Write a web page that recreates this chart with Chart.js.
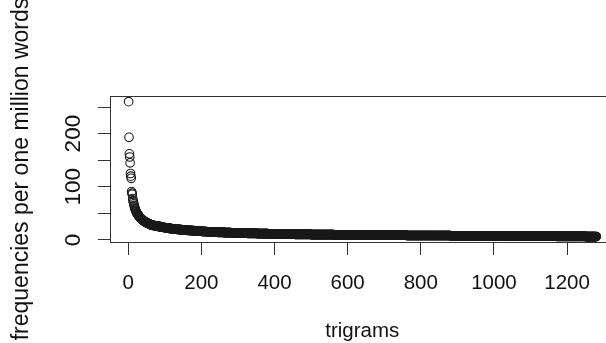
<!DOCTYPE html>
<html>
<head>
<meta charset="utf-8">
<script src="https://cdn.jsdelivr.net/npm/chart.js@4/dist/chart.umd.min.js"></script>
<style>
  html, body { margin: 0; padding: 0; background: #fff; overflow: hidden; }
  #wrap { width: 606px; height: 343px; overflow: hidden; }
</style>
</head>
<body>
<div id="wrap"><canvas id="plot" width="620" height="343"></canvas></div>
<script>
// frequencies of the top-ranked trigrams, read one by one
const headValues = [260, 193, 162, 156, 145, 125, 120, 116, 91, 88,
                    86, 78, 74, 71, 68, 65, 62, 60, 58, 56,
                    54, 53, 51, 50, 49, 48, 47, 46, 45, 44,
                    43, 42, 41.5, 41, 40, 39.5, 39, 38, 37.5, 37,
                    36.5, 36, 35.5, 35, 34.5, 34, 33.5, 33, 33, 32.5,
                    32, 32, 31.5, 31, 31, 30.5, 30, 30, 29.5, 29];
// the long tail: frequency level and how many trigrams share it
const tailValues = [28.5, 28, 27.5, 27, 26.5, 26, 25.5, 25, 24.5, 24,
                    23.5, 23, 22.5, 22, 21.5, 21, 20.5, 20, 19.5, 19,
                    18.5, 18, 17.5, 17, 16.5, 16, 15.5, 15, 14.5, 14,
                    13.5, 13, 12.5, 12, 11.5, 11, 10.5, 10, 9.5, 9,
                    8.5, 8, 7.5, 7, 6.5];
const tailCounts = [3, 3, 3, 3, 4, 4, 4, 4, 4, 4,
                    4, 4, 5, 5, 5, 6, 6, 7, 7, 7,
                    8, 9, 10, 11, 11, 13, 14, 16, 17, 19,
                    21, 24, 26, 30, 34, 40, 44, 62, 73, 126,
                    120, 140, 150, 80, 30];
const xTicks = [0, 200, 400, 600, 800, 1000, 1200];
const yTicks = [0, 50, 100, 150, 200, 250];
const yLabelled = [0, 100, 200];

const freqs = headValues.slice();
tailValues.forEach((v, i) => {
    for (let k = 0; k < tailCounts[i]; k++) freqs.push(v);
});
const points = freqs.map((v, i) => ({ x: i + 1, y: v }));

const FAMILY = '"Liberation Sans", Arial, sans-serif';

// R style box, tick labels and axis titles
const rStyle = {
    id: 'rStyle',
    afterDraw(chart) {
        const ctx = chart.ctx;
        const a = chart.chartArea;
        const xs = chart.scales.x, ys = chart.scales.y;
        ctx.save();
        ctx.strokeStyle = '#333';
        ctx.lineWidth = 1;
        ctx.strokeRect(a.left + 0.5, a.top + 0.5, a.right - a.left, a.bottom - a.top);

        ctx.fillStyle = '#111';
        ctx.font = '20.5px ' + FAMILY;
        ctx.textAlign = 'center';
        ctx.textBaseline = 'alphabetic';
        xs.ticks.forEach(t => {
            ctx.fillText(String(t.value), xs.getPixelForValue(t.value), 288.5);
        });
        ctx.fillText('trigrams', (a.left + a.right) / 2, 336.5);

        ctx.font = '22.5px ' + FAMILY;
        ys.ticks.forEach(t => {
            if (!yLabelled.includes(t.value)) return;
            ctx.save();
            ctx.translate(80, ys.getPixelForValue(t.value));
            ctx.rotate(-Math.PI / 2);
            ctx.fillText(String(t.value), 0, 0);
            ctx.restore();
        });

        ctx.font = '23px ' + FAMILY;
        ctx.save();
        ctx.translate(28, 169);
        ctx.rotate(-Math.PI / 2);
        ctx.fillText('frequencies per one million words', 0, 0);
        ctx.restore();
        ctx.restore();
    }
};

new Chart(document.getElementById('plot'), {
    type: 'scatter',
    data: {
        datasets: [{
            data: points,
            pointStyle: 'circle',
            pointRadius: 4.3,
            pointBorderWidth: 1.1,
            borderColor: '#1a1a1a',
            backgroundColor: 'rgba(0,0,0,0)'
        }]
    },
    options: {
        responsive: false,
        animation: false,
        events: [],
        layout: { padding: { left: 0, top: 96, right: 4, bottom: 0 } },
        plugins: { legend: { display: false }, tooltip: { enabled: false } },
        scales: {
            x: {
                type: 'linear',
                min: -50,
                max: 1330,
                afterBuildTicks: s => { s.ticks = xTicks.map(v => ({ value: v })); },
                afterFit: s => { s.height = 101; },
                ticks: { display: false },
                border: { display: false },
                grid: { drawOnChartArea: false, drawTicks: true, tickLength: 13, color: '#333', lineWidth: 1 }
            },
            y: {
                type: 'linear',
                min: -3.76,
                max: 270.7,
                afterBuildTicks: s => { s.ticks = yTicks.map(v => ({ value: v })); },
                afterFit: s => { s.width = 110; },
                ticks: { display: false },
                border: { display: false },
                grid: { drawOnChartArea: false, drawTicks: true, tickLength: 12, color: '#333', lineWidth: 1 }
            }
        }
    },
    plugins: [rStyle]
});
</script>
</body>
</html>
